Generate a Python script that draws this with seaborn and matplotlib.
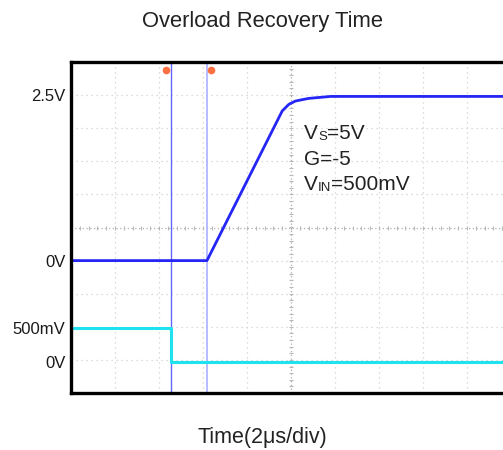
import numpy as np
import pandas as pd
import matplotlib
matplotlib.use("Agg")
import matplotlib.pyplot as plt
import seaborn as sns

# scope channels (time in divisions, 2us/div)
out_time = [0.0, 3.09, 4.80, 4.95, 5.1, 5.4, 5.9, 10.0]
out_volts = [0.0, 0.0, 2.26, 2.36, 2.41, 2.45, 2.48, 2.48]
in_time = [0.0, 2.27, 2.27, 10.0]
in_volts = [0.5, 0.5, 0.0, 0.0]

out_scale, out_offset = 0.5, 4.0     # V/div, 0V position in div
in_scale, in_offset = 0.5, 0.95

cursor_pos = [2.27, 3.09]
marker_pos = [2.16, 3.18]

ytick_pos = [out_offset + 2.5 / out_scale, out_offset, in_offset + 0.5 / in_scale, in_offset]
ytick_labels = ["2.5V", "0V", "500mV", "0V"]

sns.set_style("white")
plt.rcParams['font.family'] = ['Liberation Sans', 'DejaVu Sans']

fig = plt.figure(figsize=(5.03, 4.50), dpi=100)
ax = fig.add_axes([71 / 503, 57 / 450, 440 / 503, 331 / 450])

out_df = pd.DataFrame({"t": out_time, "div": np.array(out_volts) / out_scale + out_offset})
in_df = pd.DataFrame({"t": in_time, "div": np.array(in_volts) / in_scale + in_offset})

# grid
for g in range(1, 10):
    if g == 5:
        continue
    ax.axvline(g, color="#d0d0d0", lw=0.9, ls=(0, (1, 3)), zorder=0)
    ax.axhline(g, color="#d0d0d0", lw=0.9, ls=(0, (1, 3)), zorder=0)
ax.axvline(5, color="#b0b0b0", lw=0.9, ls=(0, (1, 2)), zorder=0)
ax.axhline(5, color="#b0b0b0", lw=0.9, ls=(0, (1, 2)), zorder=0)
minor = np.arange(0.2, 10, 0.2)
ax.plot(np.full_like(minor, 5), minor, ls="none", marker="_", ms=3, color="#b8b8b8", mew=0.8, zorder=0)
ax.plot(minor, np.full_like(minor, 5), ls="none", marker="|", ms=3, color="#b8b8b8", mew=0.8, zorder=0)

# cursors
ax.axvline(cursor_pos[0], color="#6464ff", lw=1.0, zorder=1)
ax.axvline(cursor_pos[1], color="#aab0ff", lw=1.2, zorder=1)
ax.plot(marker_pos, [9.76, 9.76], ls="none", marker="o", ms=4.5, color="#ff7043", zorder=3, clip_on=False)

sns.lineplot(data=in_df, x="t", y="div", sort=False, estimator=None, color="#1ee3ee", lw=2.2, ax=ax, zorder=2)
sns.lineplot(data=out_df, x="t", y="div", sort=False, estimator=None, color="#2525f5", lw=2.0, ax=ax, zorder=2)

ax.set_xlim(0, 10)
ax.set_ylim(0, 10)
ax.set_xticks([])
ax.set_yticks(ytick_pos)
ax.set_yticklabels(ytick_labels, fontsize=12, color="#1a1a1a")
ax.tick_params(axis="y", length=0, pad=4)
ax.set_xlabel("")
ax.set_ylabel("")
for side in ["left", "top", "bottom"]:
    ax.spines[side].set_linewidth(2.4)
    ax.spines[side].set_color("black")
ax.spines["right"].set_visible(False)

# conditions text with small-caps subscripts
def label(y, main, sub, rest):
    t1 = ax.text(5.3, y, main, fontsize=15, color="#222222", va="bottom")
    t2 = ax.annotate(sub, xy=(1, 0), xycoords=t1, fontsize=9.5, color="#222222", va="bottom", ha="left")
    ax.annotate(rest, xy=(1, 0), xycoords=t2, fontsize=15, color="#222222", va="bottom", ha="left")

label(7.55, "V", "S", "=5V")
label(6.78, "G=-5", "", "")
label(6.0, "V", "IN", "=500mV")

fig.text(262 / 503, 1 - 22 / 450, "Overload Recovery Time", ha="center", va="center", fontsize=15.8, color="#222222")
fig.text(262 / 503, 1 - 438 / 450, "Time(2\u03bcs/div)", ha="center", va="center", fontsize=15.5, color="#222222")

fig.savefig("out.png", dpi=100)
